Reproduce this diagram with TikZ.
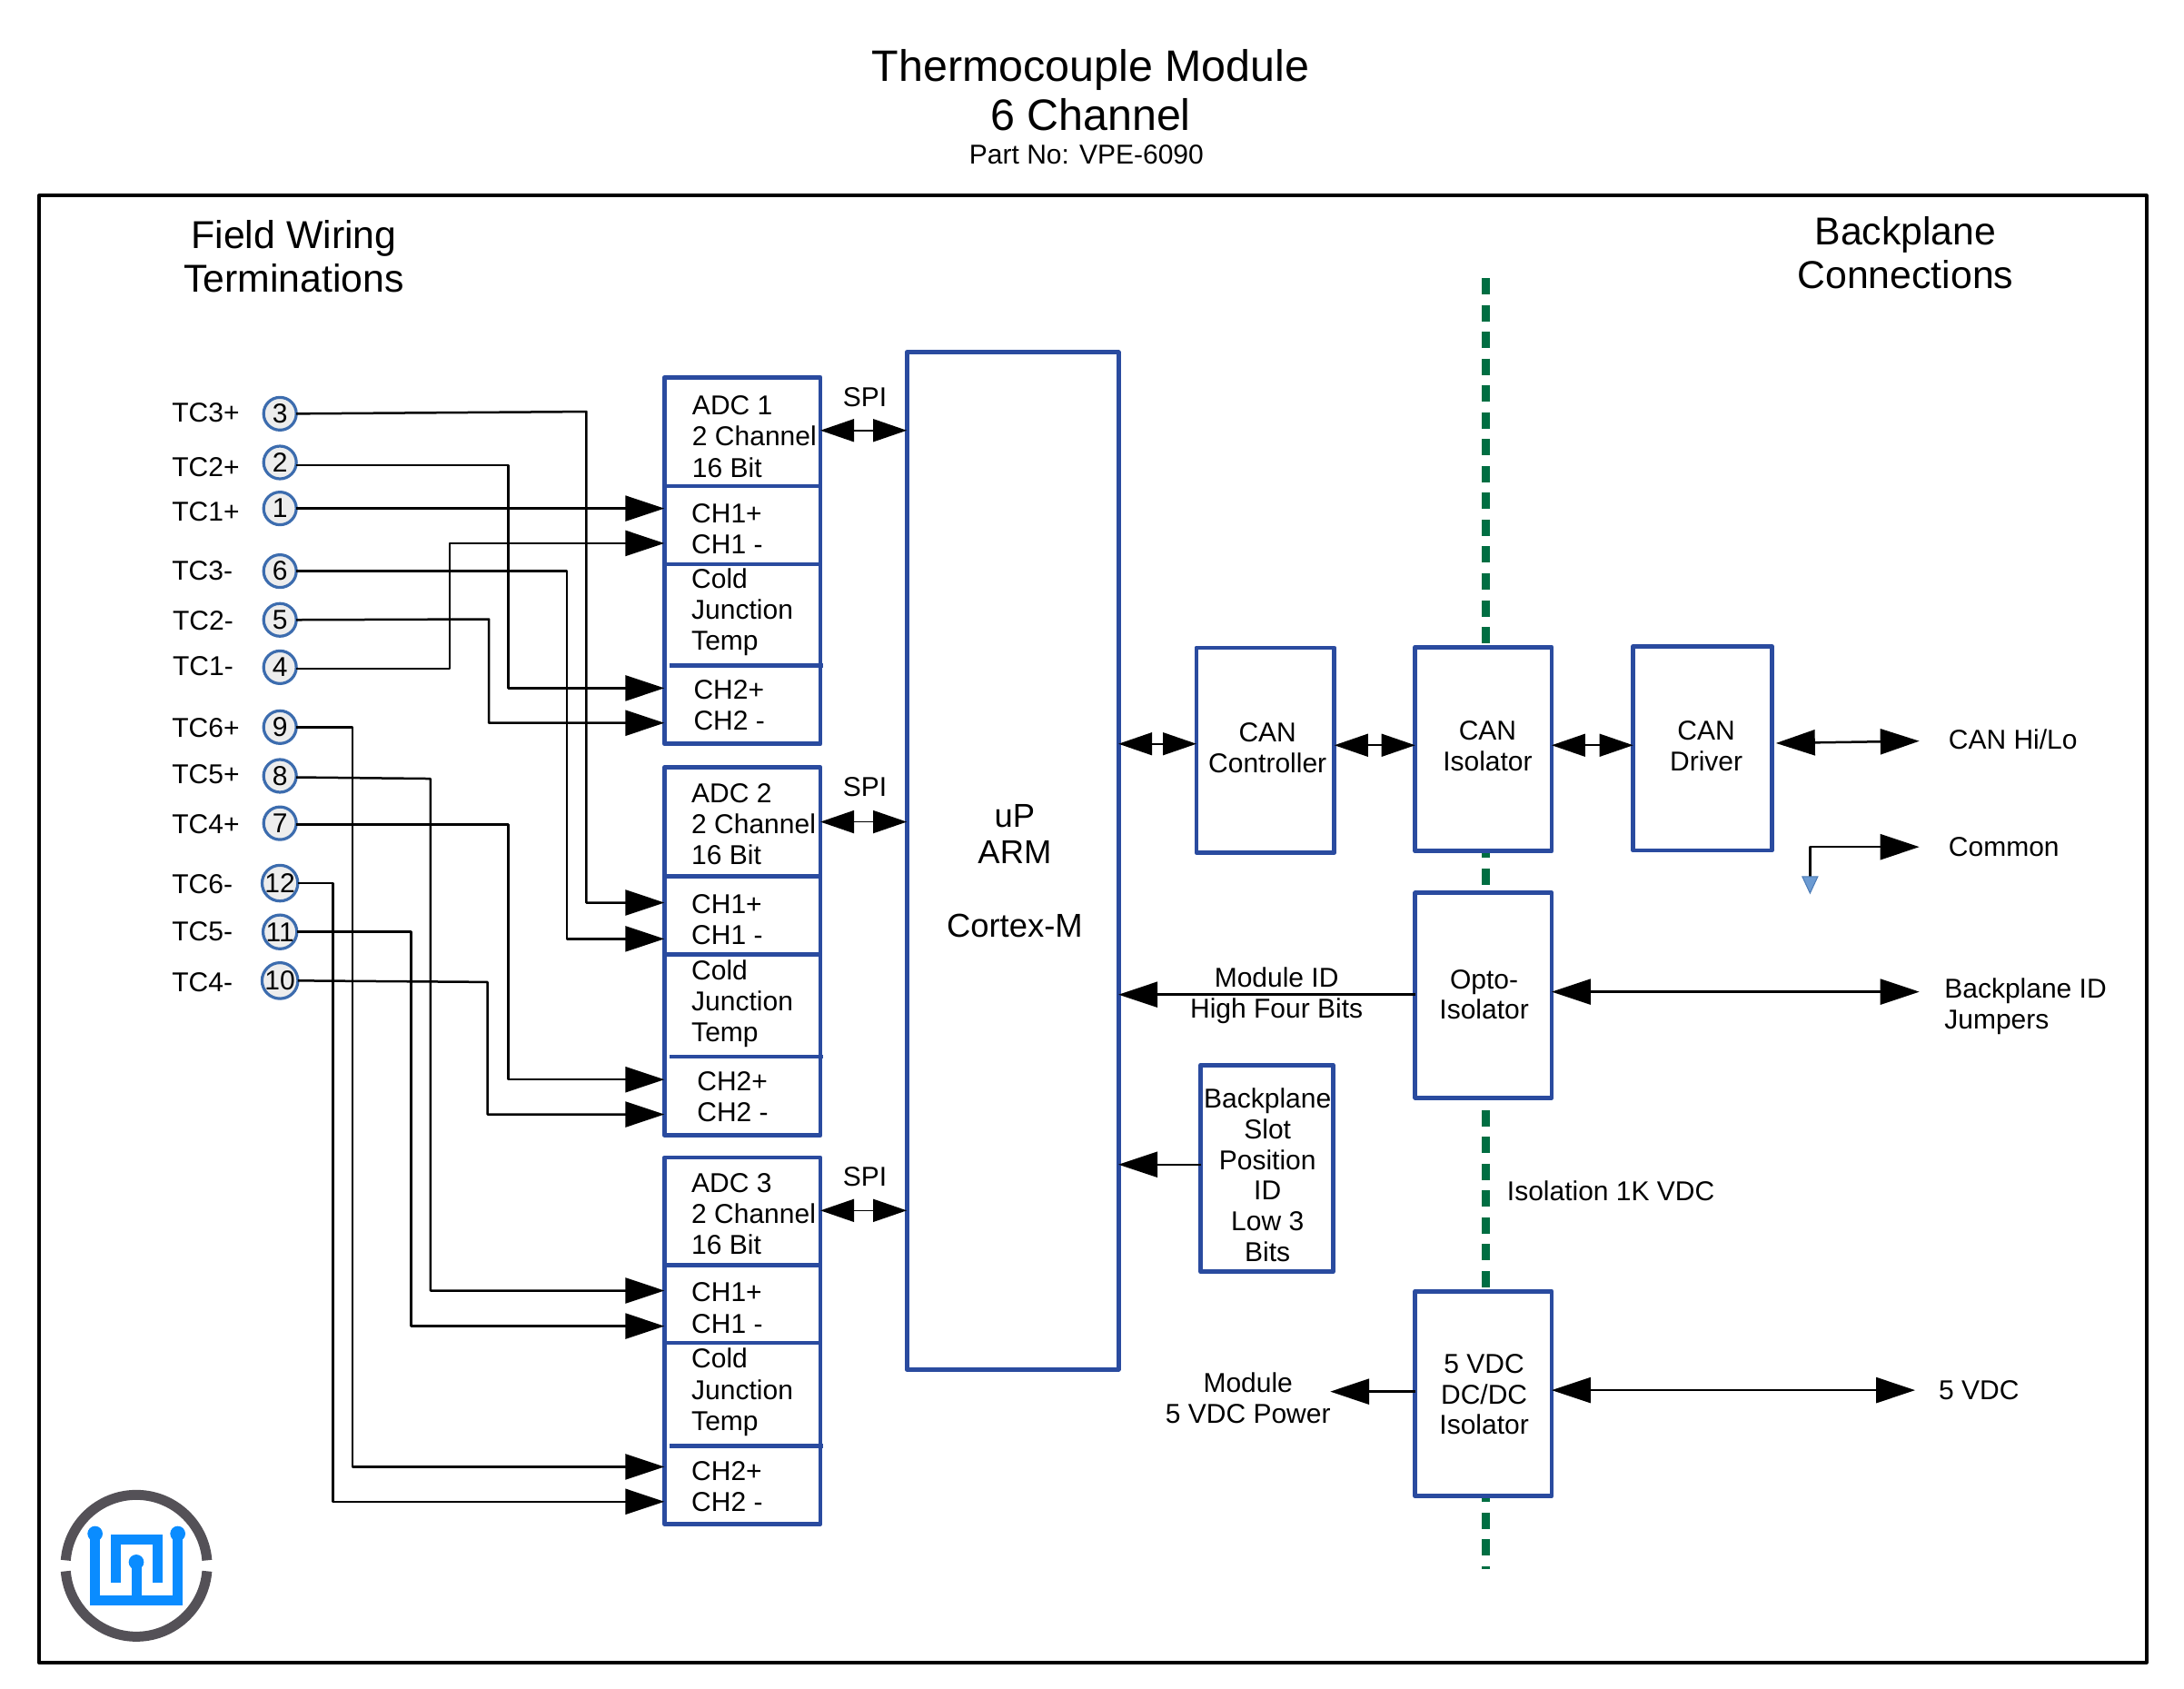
\documentclass[tikz,border=0pt]{standalone}
\usepackage{fontspec}
\setmainfont{Liberation Sans}
\usetikzlibrary{arrows.meta,fit,shapes.geometric}
\definecolor{blk}{HTML}{2A4B9F}
\definecolor{ringc}{HTML}{3C6CAE}
\definecolor{grn}{HTML}{006E42}
\definecolor{logog}{HTML}{545157}
\definecolor{logob}{HTML}{0A8CFF}
\definecolor{gndf}{HTML}{6C9BD2}
\definecolor{gnds}{HTML}{4A7AB5}
\newcommand{\blockbox}[5]{\node[blockst,fit={(#2,#3)(#4,#5)}] (#1) {};}
\tikzset{
  x=0.76658pt,y=-0.76658pt,
  txt/.style={inner sep=0pt,outer sep=0pt,font=\fontsize{15}{16.9}\selectfont},
  txtc/.style={txt,align=center,anchor=center},
  txtl/.style={txt,align=left,anchor=west},
  adct/.style={inner sep=0pt,outer sep=0pt,font=\fontsize{15}{17.1}\selectfont,align=left,anchor=west},
  headt/.style={inner sep=0pt,outer sep=0pt,align=center,font=\fontsize{21.4}{23.8}\selectfont},
  blockst/.style={draw=blk,fill=white,line width=2.4pt,line join=round,inner sep=0pt,outer sep=0pt},
  divider/.style={draw=blk,line width=2.4pt},
  term/.style={circle,draw=ringc,fill=black!7,line width=1.6pt,inner sep=0pt,outer sep=0pt,minimum size=18pt,font=\fontsize{15}{16}\selectfont},
  wire/.style={line width=1.25pt,line join=round,-{Triangle[length=21.5pt,width=14pt]}},
  dblbig/.style={line width=1.25pt,{Triangle[length=21.5pt,width=14pt]}-{Triangle[length=21.5pt,width=14pt]}},
  dblsmall/.style={line width=0.8pt,{Triangle[length=18.5pt,width=12.5pt]}-{Triangle[length=18.5pt,width=12.5pt]}},
}
\begin{document}
\begin{tikzpicture}
\useasboundingbox (0pt,0pt) rectangle (1202pt,-929pt);
% titles
\node[inner sep=0pt,align=center,font=\fontsize{24.2}{26.9}\selectfont] (title) at (783,64.5) {Thermocouple Module\\6 Channel};
\node[inner sep=0pt,font=\fontsize{15}{18}\selectfont] (part) at (780,111) {Part No: VPE-6090};
% frame
\node[draw=black,line width=2pt,line join=round,inner sep=0pt,outer sep=0pt,fit={(28,140.5)(1541,1193.5)}] (frame) {};
\node[headt] (field) at (211,184) {Field Wiring\\Terminations};
\node[headt] (bpconn) at (1368,181.5) {Backplane\\Connections};
% isolation barrier
\coordinate (isotop) at (1066.8,199.6);
\coordinate (isobot) at (1066.8,1126.6);
\draw[grn,line width=4.5pt,dash pattern=on 9pt off 5.77pt] (isotop) -- (isobot);
% ADC blocks
\blockbox{adca}{477}{271}{589}{534}
\draw[divider] (adca.west |- 0,349) -- (adca.east |- 0,349);
\draw[divider] (adca.west |- 0,405) -- (adca.east |- 0,405);
\draw[divider] (481,478) -- (591,478);
\blockbox{adcb}{477}{551}{589}{815}
\draw[divider] (adcb.west |- 0,629) -- (adcb.east |- 0,629);
\draw[divider] (adcb.west |- 0,685) -- (adcb.east |- 0,685);
\draw[divider] (481,758.5) -- (591,758.5);
\blockbox{adcc}{477}{831}{589}{1094}
\draw[divider] (adcc.west |- 0,908) -- (adcc.east |- 0,908);
\draw[divider] (adcc.west |- 0,964) -- (adcc.east |- 0,964);
\draw[divider] (481,1038) -- (591,1038);
% ADC texts
\node[adct] (a1) at (497,313.5) {ADC 1\\2 Channel\\16 Bit};
\node[adct] (a2) at (496.5,379.5) {CH1+\\CH1 -};
\node[adct] (a3) at (496.5,439.5) {Cold\\Junction\\Temp};
\node[adct] (a4) at (498,506.5) {CH2+\\CH2 -};
\node[adct] (b1) at (496.5,591.5) {ADC 2\\2 Channel\\16 Bit};
\node[adct] (b2) at (496.5,660) {CH1+\\CH1 -};
\node[adct] (b3) at (496.5,720.5) {Cold\\Junction\\Temp};
\node[adct] (b4) at (500.5,787.5) {CH2+\\CH2 -};
\node[adct] (c1) at (496.5,871.5) {ADC 3\\2 Channel\\16 Bit};
\node[adct] (c2) at (496.5,939) {CH1+\\CH1 -};
\node[adct] (c3) at (496.5,999.5) {Cold\\Junction\\Temp};
\node[adct] (c4) at (496.5,1067) {CH2+\\CH2 -};
% uP
\blockbox{up}{651}{253}{803}{983}
\node[inner sep=0pt,align=center,font=\fontsize{18.2}{20}\selectfont] (uplabel) at (728.5,625.5) {uP\\ARM\\[20.5pt]Cortex-M};
% other blocks
\blockbox{cctl}{859}{465}{958}{612}
\node[txtc] (cctlt) at (910,537) {CAN\\Controller};
\blockbox{ciso}{1016}{464.5}{1114}{611}
\node[txtc] (cisot) at (1068,535.5) {CAN\\Isolator};
\blockbox{cdrv}{1172.5}{464}{1272}{610.5}
\node[txtc] (cdrvt) at (1225,535.5) {CAN\\Driver};
\blockbox{opto}{1016}{641}{1114}{788}
\node[txtc] (optot) at (1065.5,714) {Opto-\\Isolator};
\blockbox{slot}{862}{764.5}{957}{913}
\node[txtc] (slott) at (910,843.5) {Backplane\\Slot\\Position\\ID\\Low 3\\Bits};
\blockbox{dcdc}{1016}{927}{1114}{1074}
\node[txtc] (dcdct) at (1065.5,1001) {5 VDC\\DC/DC\\Isolator};
% SPI
\node[txtc] (spia) at (621,285) {SPI};
\node[txtc] (spib) at (621,565) {SPI};
\node[txtc] (spic) at (621,844.5) {SPI};
\draw[dblsmall] (adca.east |- 0,309) -- (up.west |- 0,309);
\draw[dblsmall] (adcb.east |- 0,590) -- (up.west |- 0,590);
\draw[dblsmall] (adcc.east |- 0,869) -- (up.west |- 0,869);
% CAN chain
\draw[dblsmall] (up.east |- 0,534) -- (cctl.west |- 0,534);
\draw[dblsmall] (cctl.east |- 0,535) -- (ciso.west |- 0,535);
\draw[dblsmall] (ciso.east |- 0,535) -- (cdrv.west |- 0,535);
% right outputs
\coordinate (canin) at (1275,533.5);
\coordinate (canout) at (1378,532);
\coordinate (cmnout) at (1378,608);
\coordinate (bpout) at (1378,712);
\coordinate (pwrout) at (1375,998);
\coordinate (pwrleft) at (955,999);
\coordinate (gnd) at (1299.5,631);
\draw[dblbig] (canin) -- (canout);
\draw[wire] (gnd) |- (cmnout);
\node[isosceles triangle,isosceles triangle apex angle=50,shape border rotate=-90,draw=gnds,fill=gndf,line width=0.5pt,inner sep=0pt,minimum height=8.5pt,minimum width=8.5pt,anchor=apex] (gndsym) at (1299.5,642) {};
\node[txtl] (canl) at (1399,531) {CAN Hi/Lo};
\node[txtl] (cmnl) at (1399,608) {Common};
\node[txtl] (bpl) at (1396,722.5) {Backplane ID\\Jumpers};
\node[txtl] (vl) at (1392,998) {5 VDC};
\node[txtl] (isol) at (1082,855) {Isolation 1K VDC};
\draw[wire] (opto.west |- 0,714) -- (up.east |- 0,714);
\node[txtc] (mid) at (916.5,714.5) {Module ID\\High Four Bits};
\draw[dblbig] (opto.east |- 0,712) -- (bpout);
\draw[wire] (slot.west |- 0,836) -- (up.east |- 0,836);
\draw[wire] (dcdc.west |- 0,999) -- (pwrleft);
\draw[dblbig] (dcdc.east |- 0,998) -- (pwrout);
\node[txtc] (pwrt) at (896,1003.5) {Module\\5 VDC Power};
% terminals
\foreach \nm/\ty in {3/297,2/332,1/365,6/410,5/445,4/479,9/522,8/557,7/591,12/634,11/669,10/704}{
  \node[term] (t\nm) at (201,\ty) {\nm};
}
\foreach \nm/\xx/\ty/\lab in {tla/123.5/296.5/TC3+,tlb/123.5/335.5/TC2+,tlc/123.5/367/TC1+,tld/123.5/409.5/TC3-,tle/124/445.5/TC2-,tlf/124/478.5/TC1-,tlg/123.5/522.5/TC6+,tlh/123.5/556/TC5+,tli/123.5/592/TC4+,tlj/123.5/634.5/TC6-,tlk/123.5/668.5/TC5-,tll/123.5/705/TC4-}{
  \node[txtl] (\nm) at (\xx,\ty) {\lab};
}
% wires
\draw[wire] (t3.east) -- (421,295.5) |- (adcb.west |- 0,648);
\draw[wire] (t2.east) ++(0,2) -- (365,334) |- (adca.west |- 0,494);
\draw[wire] (t1.east) -- (adca.west |- t1.east);
\draw[wire] (t6.east) -- (407,410) |- (adcb.west |- 0,674);
\draw[wire] (t5.east) -- (351,444.5) |- (adca.west |- 0,519);
\draw[wire] (t4.east) ++(0,1) -- (323,480) |- (adca.west |- 0,390);
\draw[wire] (t9.east) -- (253,522) |- (adcc.west |- 0,1053);
\draw[wire] (t8.east) ++(0,1) -- (309,559) |- (adcc.west |- 0,926.5);
\draw[wire] (t7.east) ++(0,1) -- (365,592) |- (adcb.west |- 0,775);
\draw[wire] (t12.east) -- (239,634) |- (adcc.west |- 0,1078);
\draw[wire] (t11.east) -- (295,669) |- (adcc.west |- 0,952);
\draw[wire] (t10.east) -- (350,705) |- (adcb.west |- 0,800);
% logo (coordinates are 3x reference pixels)
\begin{scope}[x=0.16667pt,y=-0.16667pt,shift={(0pt,-780pt)}]
  \draw[logog,line width=5.5pt] (217,472) arc[start angle=184.4,end angle=355.6,radius=234];
  \draw[logog,line width=5.5pt] (217,508) arc[start angle=175.6,end angle=4.4,radius=234];
  \draw[logob,line width=5.5pt,line join=miter] (314,384) -- (314,605.5) -- (587,605.5) -- (587,384);
  \draw[logob,line width=5.5pt] (450,478) -- (450,605);
  \draw[logob,line width=5.5pt,line join=miter] (383,545) -- (383,402) -- (519,402) -- (519,545);
  \fill[logob] (314,384) circle[radius=25];
  \fill[logob] (587,384) circle[radius=25];
  \fill[logob] (450,478) circle[radius=25];
\end{scope}
\end{tikzpicture}
\end{document}
